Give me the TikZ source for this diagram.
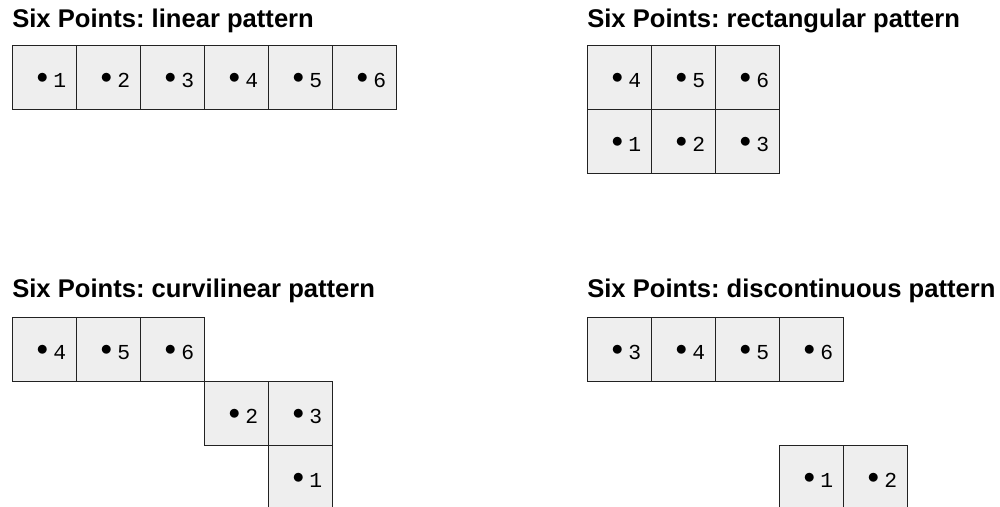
\documentclass[tikz,border=0pt]{standalone}
\usepackage{fontspec}
\setmainfont{Liberation Sans}
\newfontfamily\monofont{Liberation Mono}
\usetikzlibrary{positioning}
\definecolor{cellgray}{RGB}{238,238,238}
\definecolor{edgegray}{RGB}{34,34,34}
\newcommand{\pt}[1]{\hspace*{11pt}\raisebox{2.6pt}{$\bullet$}\hspace{4pt}#1}
\tikzset{
  cell/.style={rectangle, draw=edgegray, fill=cellgray, line width=0.75pt, minimum size=48pt, inner sep=0pt, outer sep=0pt, text height=15pt, text depth=0pt, font=\monofont\fontsize{16}{16}\selectfont},
  heading/.style={anchor=base west, inner sep=0pt, font=\frenchspacing\bfseries\fontsize{19.2}{21}\selectfont}
}

\begin{document}
\begin{tikzpicture}[x=0.75pt, y=-0.75pt]
\useasboundingbox (0,0) rectangle (1000,507);
% linear
\node[heading] (tl) at (12,27) {Six Points: linear pattern};
\node[cell] (l1) at (44,77) {\pt{1}};
\node[cell, right=0pt of l1] (l2) {\pt{2}};
\node[cell, right=0pt of l2] (l3) {\pt{3}};
\node[cell, right=0pt of l3] (l4) {\pt{4}};
\node[cell, right=0pt of l4] (l5) {\pt{5}};
\node[cell, right=0pt of l5] (l6) {\pt{6}};
% rectangular
\node[heading] (tr) at (587,27) {Six Points: rectangular pattern};
\node[cell] (r4) at (619,77) {\pt{4}};
\node[cell, right=0pt of r4] (r5) {\pt{5}};
\node[cell, right=0pt of r5] (r6) {\pt{6}};
\node[cell, below=0pt of r4] (r1) {\pt{1}};
\node[cell, right=0pt of r1] (r2) {\pt{2}};
\node[cell, right=0pt of r2] (r3) {\pt{3}};
% curvilinear
\node[heading] (tc) at (12,297) {Six Points: curvilinear pattern};
\node[cell] (c4) at (44,349) {\pt{4}};
\node[cell, right=0pt of c4] (c5) {\pt{5}};
\node[cell, right=0pt of c5] (c6) {\pt{6}};
\node[cell, below right=0pt and 0pt of c6] (c2) {\pt{2}};
\node[cell, right=0pt of c2] (c3) {\pt{3}};
\node[cell, below=0pt of c3] (c1) {\pt{1}};
% discontinuous
\node[heading] (td) at (587,297) {Six Points: discontinuous pattern};
\node[cell] (d3) at (619,349) {\pt{3}};
\node[cell, right=0pt of d3] (d4) {\pt{4}};
\node[cell, right=0pt of d4] (d5) {\pt{5}};
\node[cell, right=0pt of d5] (d6) {\pt{6}};
\node[cell, below=48pt of d6] (d1) {\pt{1}};
\node[cell, right=0pt of d1] (d2) {\pt{2}};
\end{tikzpicture}
\end{document}
